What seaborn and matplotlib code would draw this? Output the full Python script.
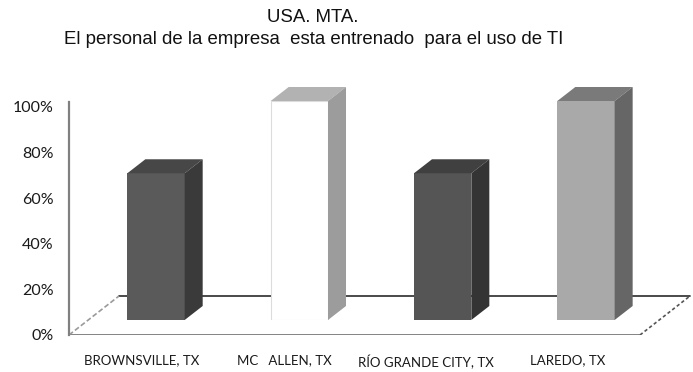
import matplotlib
matplotlib.use("Agg")
import matplotlib.pyplot as plt
from matplotlib.patches import Polygon
import seaborn as sns
import pandas as pd

# ---- data -------------------------------------------------------------
title_lines = ["USA. MTA.",
               "El personal de la empresa  esta entrenado  para el uso de TI"]
cities = ["BROWNSVILLE, TX", "MC   ALLEN, TX", "RÍO GRANDE CITY, TX", "LAREDO, TX"]
trained_pct = [67, 100, 67, 100]
y_ticks = [0, 20, 40, 60, 80, 100]
y_tick_labels = ["0%", "20%", "40%", "60%", "80%", "100%"]

# ---- styling ----------------------------------------------------------
front_colors = ["#5a5a5a", "#ffffff", "#555555", "#a9a9a9"]
side_colors = ["#3a3a3a", "#9c9c9c", "#343434", "#666666"]
top_colors = ["#474747", "#b2b2b2", "#404040", "#7a7a7a"]

W, H = 693, 372
sns.set_theme(style="white")
plt.rcParams["font.family"] = ["Lato", "DejaVu Sans"]

fig = plt.figure(figsize=(W / 100, H / 100), dpi=100)
fig.patch.set_facecolor("white")


def px_axes(left, top, right, bottom, **kw):
    """Axes placed by pixel box (origin at top-left of the figure)."""
    return fig.add_axes([left / W, 1 - bottom / H, (right - left) / W, (bottom - top) / H], **kw)


# ---- frame: value axis, floor and category labels -----------------------
frame = px_axes(69, 102, 693, 335)
lab_x0, lab_step, y_scale = 142, 142, 2.28
frame.set_xlim((69 - lab_x0) / lab_step, (693 - lab_x0) / lab_step)
frame.set_ylim(0, (335 - 102) / y_scale)

floor_dx = 50 / lab_step
floor_dy = 39 / y_scale
xl = frame.get_xlim()[0]
xr = 3.507
floor = Polygon([(xl, 0), (xl + floor_dx, floor_dy), (xr + floor_dx, floor_dy), (xr, 0)],
                closed=True, facecolor="white", edgecolor="none", zorder=1)
frame.add_patch(floor)
frame.plot([xl + floor_dx, xr + floor_dx], [floor_dy, floor_dy], color="#3c3c3c", lw=1.3, zorder=2)
frame.plot([xl, xr], [0, 0], color="#5e5e5e", lw=1.8, zorder=2, solid_capstyle="butt")
frame.plot([xl, xl + floor_dx], [0, floor_dy], color="#9a9a9a", lw=1.2, ls=(0, (3, 1.5)), zorder=2)
frame.plot([xr, xr + floor_dx], [0, floor_dy], color="#555555", lw=1.2, ls=(0, (2, 1.5)), zorder=2)

frame.set_yticks(y_ticks, y_tick_labels)
frame.set_xticks(range(len(cities)), cities)
frame.tick_params(axis="y", length=0, pad=11, labelsize=11.5, labelcolor="#1a1a1a")
frame.tick_params(axis="x", length=0, pad=14, labelsize=9.5, labelcolor="#1a1a1a")
for side in ("top", "right", "bottom"):
    frame.spines[side].set_visible(False)
frame.spines["left"].set_color("#808080")
frame.spines["left"].set_linewidth(1.6)
frame.set_xlabel("")
frame.set_ylabel("")

# ---- bars (drawn at mid depth of the floor) ---------------------------
bars_ax = px_axes(84.35, 40, 657.65, 320)
df = pd.DataFrame({"city": cities, "pct": trained_pct})
sns.barplot(data=df, x="city", y="pct", hue="city",
            palette=dict(zip(cities, front_colors)), saturation=1,
            width=0.4, legend=False, linewidth=0, ax=bars_ax)
bar_scale = 2.19
bars_ax.set_xlim(-0.5, 3.5)
bars_ax.set_ylim(0, (320 - 40) / bar_scale)
bars_ax.axis("off")
bars_ax.patch.set_alpha(0)

dx = 18 / 143.3
dy = 14 / bar_scale
for patch in list(bars_ax.patches):
    x0, w, h = patch.get_x(), patch.get_width(), patch.get_height()
    i = int(round(x0 + w / 2))
    if front_colors[i] == "#ffffff":
        patch.set_edgecolor("#dcdcdc")
        patch.set_linewidth(0.8)
    top = Polygon([(x0, h), (x0 + dx, h + dy), (x0 + w + dx, h + dy), (x0 + w, h)],
                  closed=True, facecolor=top_colors[i], edgecolor="none", zorder=3)
    side = Polygon([(x0 + w, 0), (x0 + w + dx, dy), (x0 + w + dx, h + dy), (x0 + w, h)],
                   closed=True, facecolor=side_colors[i], edgecolor="none", zorder=3)
    bars_ax.add_patch(top)
    bars_ax.add_patch(side)

# ---- title --------------------------------------------------------------
title_font = ["Liberation Sans", "DejaVu Sans"]
fig.text(313 / W, 1 - 17 / H, title_lines[0], ha="center", va="center",
         fontsize=13.4, family=title_font, color="#111111")
fig.text(314 / W, 1 - 40 / H, title_lines[1], ha="center", va="center",
         fontsize=13.4, family=title_font, color="#111111")

fig.savefig("out.png", dpi=100, facecolor="white")
